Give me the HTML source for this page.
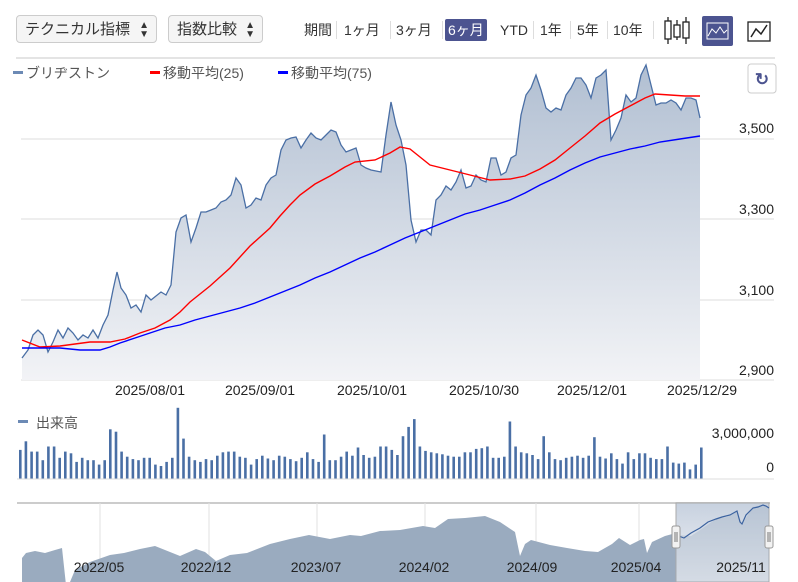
<!DOCTYPE html>
<html><head><meta charset="utf-8"><style>
body{margin:0;width:798px;height:582px;background:#fff;font-family:"Liberation Sans","Noto Sans CJK JP",sans-serif;overflow:hidden;position:relative}
.dd{position:absolute;top:15px;height:28px;border:1px solid #ccc;border-radius:4px;background:#f5f5f5;font-size:15px;line-height:28px;padding-left:8px;box-sizing:border-box;color:#333}
.dd span{position:absolute;right:7px;top:0;font-size:10px;line-height:9px;padding-top:5px}
.per{position:absolute;top:20px;font-size:14px;color:#333;line-height:20px}
.sep{position:absolute;top:21px;width:1px;height:18px;background:#ddd}
</style></head><body>
<div class="dd" style="left:16px;width:141px">テクニカル指標<span>▲<br>▼</span></div>
<div class="dd" style="left:168px;width:95px">指数比較<span>▲<br>▼</span></div>
<div class="per" style="left:304px">期間</div><div class="sep" style="left:336px"></div>
<div class="per" style="left:344px">1ヶ月</div><div class="sep" style="left:390px"></div>
<div class="per" style="left:396px">3ヶ月</div><div class="sep" style="left:442px"></div>
<div class="per" style="left:445px;top:19px;background:#4c5490;color:#fff;padding:1px 3px;border-radius:2px">6ヶ月</div>
<div class="per" style="left:500px">YTD</div><div class="sep" style="left:533px"></div>
<div class="per" style="left:540px">1年</div><div class="sep" style="left:570px"></div>
<div class="per" style="left:577px">5年</div><div class="sep" style="left:607px"></div>
<div class="per" style="left:613px">10年</div><div class="sep" style="left:653px"></div>
<svg style="position:absolute;left:0;top:0" width="798" height="582">
<!-- candle icon -->
<g stroke="#222" fill="#fff" stroke-width="1.3"><line x1="668" y1="17" x2="668" y2="44"/><rect x="665" y="21" width="6" height="18"/><line x1="677" y1="20" x2="677" y2="40"/><rect x="674" y="25" width="6" height="12"/><line x1="686" y1="17" x2="686" y2="44"/><rect x="683" y="22" width="6" height="16"/></g>
<rect x="702" y="16" width="31" height="30" rx="2" fill="#4c5490"/>
<rect x="707" y="23" width="21" height="16" fill="none" stroke="#fff"/>
<path d="M708 36 L712 29 L716 33 L720 27 L724 33 L727 30" stroke="#fff" fill="none"/>
<rect x="748" y="22" width="22" height="19" fill="none" stroke="#222" stroke-width="1.3"/>
<path d="M751 37 L756 29 L761 34 L767 25" stroke="#222" fill="none" stroke-width="1.5"/>
<line x1="16" y1="58" x2="775" y2="58" stroke="#e4e4e4" stroke-width="2"/>
<rect x="748" y="64" width="28" height="29" rx="3" fill="#fff" stroke="#ccc"/>
<text x="762" y="85" font-size="17" fill="#4c5490" text-anchor="middle" font-weight="bold">↻</text>
<!-- legend -->
<g font-size="14" fill="#555"><rect x="13" y="71" width="10" height="3" fill="#6c8ab5"/><text x="26" y="78">ブリヂストン</text>
<rect x="150" y="71" width="10" height="3" fill="#f00"/><text x="163" y="78">移動平均(25)</text>
<rect x="278" y="71" width="10" height="3" fill="#00f"/><text x="291" y="78">移動平均(75)</text></g>
<defs><linearGradient id="g" x1="0" y1="0" x2="0" y2="1"><stop offset="0" stop-color="#b1bfd2"/><stop offset="1" stop-color="#f2f3f6"/></linearGradient>
<linearGradient id="g2" x1="0" y1="0" x2="0" y2="1"><stop offset="0" stop-color="#c7d1df"/><stop offset="1" stop-color="#f4f5f8"/></linearGradient></defs>
<g stroke="#ddd"><line x1="21" y1="139" x2="774" y2="139"/><line x1="21" y1="219" x2="774" y2="219"/><line x1="21" y1="300" x2="774" y2="300"/><line x1="21" y1="380" x2="774" y2="380"/></g>
<g font-size="14" fill="#222" text-anchor="end"><text x="774" y="133">3,500</text><text x="774" y="214">3,300</text><text x="774" y="295">3,100</text><text x="774" y="375">2,900</text></g>
<path id="pp" fill="url(#g)" d="M22,358 L28,350 33,335 38,330 43,335 48,352 53,342 58,330 63,338 68,328 73,333 78,340 83,335 88,338 93,330 98,338 103,325 108,315 113,290 117,272 121,288 126,295 131,308 136,305 141,312 146,295 151,300 156,296 161,292 166,295 171,285 176,232 181,218 186,215 191,242 196,228 201,212 206,212 211,210 216,208 221,202 226,200 231,195 236,178 241,185 246,208 251,205 256,198 261,200 266,185 271,178 276,175 281,150 286,140 291,138 296,137 301,148 306,140 311,133 316,138 321,140 326,135 331,130 336,132 341,145 346,152 351,150 356,148 361,165 366,168 371,170 376,171 381,172 386,135 391,102 396,125 401,140 406,165 411,220 416,242 421,230 426,230 431,235 436,200 441,195 446,186 451,190 456,182 461,170 466,188 471,186 476,175 481,180 486,182 491,158 496,158 501,175 506,172 511,158 516,155 521,115 526,95 531,88 536,75 541,90 546,108 551,112 556,108 561,110 566,95 571,88 576,78 581,78 586,85 591,98 596,78 601,75 606,70 611,140 616,130 621,118 626,95 631,102 636,98 641,75 646,65 651,85 656,105 661,103 666,103 671,100 676,103 681,110 686,98 691,98 696,100 700,118 L700,380 L22,380 Z"/>
<polyline fill="none" stroke="#4a6fa5" stroke-width="1.3" points="22,358 28,350 33,335 38,330 43,335 48,352 53,342 58,330 63,338 68,328 73,333 78,340 83,335 88,338 93,330 98,338 103,325 108,315 113,290 117,272 121,288 126,295 131,308 136,305 141,312 146,295 151,300 156,296 161,292 166,295 171,285 176,232 181,218 186,215 191,242 196,228 201,212 206,212 211,210 216,208 221,202 226,200 231,195 236,178 241,185 246,208 251,205 256,198 261,200 266,185 271,178 276,175 281,150 286,140 291,138 296,137 301,148 306,140 311,133 316,138 321,140 326,135 331,130 336,132 341,145 346,152 351,150 356,148 361,165 366,168 371,170 376,171 381,172 386,135 391,102 396,125 401,140 406,165 411,220 416,242 421,230 426,230 431,235 436,200 441,195 446,186 451,190 456,182 461,170 466,188 471,186 476,175 481,180 486,182 491,158 496,158 501,175 506,172 511,158 516,155 521,115 526,95 531,88 536,75 541,90 546,108 551,112 556,108 561,110 566,95 571,88 576,78 581,78 586,85 591,98 596,78 601,75 606,70 611,140 616,130 621,118 626,95 631,102 636,98 641,75 646,65 651,85 656,105 661,103 666,103 671,100 676,103 681,110 686,98 691,98 696,100 700,118"/>
<polyline fill="none" stroke="#f00" stroke-width="1.4" points="22,340 40,347 60,346 75,344 90,342 110,342 125,339 140,333 155,328 170,320 180,312 190,302 210,286 230,268 250,246 270,228 280,216 290,205 300,195 315,184 330,176 345,167 355,162 375,160 390,153 400,147 410,149 420,157 430,165 450,170 470,175 490,180 510,179 525,176 540,169 555,160 570,148 585,136 600,123 615,114 630,106 645,98 655,94 670,95 685,96 700,96"/>
<polyline fill="none" stroke="#00f" stroke-width="1.4" points="22,348 40,348 60,348 80,350 100,350 110,347 120,343 135,338 150,333 165,328 180,325 195,320 210,316 225,312 240,308 255,303 270,297 285,291 300,285 315,278 330,272 345,265 360,258 375,252 390,245 405,238 420,232 435,226 450,220 465,214 480,210 495,205 510,200 525,193 540,185 555,178 570,170 585,163 600,157 615,153 630,149 645,146 660,142 680,139 700,136"/>
<g font-size="14" fill="#222" text-anchor="middle"><text x="150" y="395">2025/08/01</text><text x="260" y="395">2025/09/01</text><text x="372" y="395">2025/10/01</text><text x="484" y="395">2025/10/30</text><text x="592" y="395">2025/12/01</text><text x="702" y="395">2025/12/29</text></g>
<rect x="18" y="420" width="10" height="3" fill="#6c8ab5"/><text x="36" y="428" font-size="14" fill="#555">出来高</text>
<g font-size="14" fill="#222" text-anchor="end"><text x="774" y="438">3,000,000</text><text x="774" y="472">0</text></g>
<g id="vol" fill="#4a6fa5"></g>
<line x1="17" y1="479" x2="774" y2="479" stroke="#ddd"/>
<!-- navigator -->
<line x1="17" y1="503" x2="770" y2="503" stroke="#ccc" stroke-width="2"/>
<g stroke="#e2e2e2"><line x1="100" y1="503" x2="100" y2="582"/><line x1="209" y1="503" x2="209" y2="582"/><line x1="317" y1="503" x2="317" y2="582"/><line x1="425" y1="503" x2="425" y2="582"/><line x1="536" y1="503" x2="536" y2="582"/><line x1="639" y1="503" x2="639" y2="582"/><line x1="749" y1="503" x2="749" y2="582"/></g>
<path fill="#9aabbf" d="M22,582 L22,558 26,553 35,551 45,553 55,550 62,548 66,585 70,582 75,570 90,562 110,555 124,553 140,549 155,546 170,552 180,556 196,549 205,552 216,561 230,555 247,553 270,544 290,539 309,535 330,539 350,535 361,536 380,531 400,530 423,526 435,528 448,519 465,518 485,516 500,522 515,532 520,556 525,544 531,540 550,545 567,548 585,551 598,552 612,544 619,538 630,545 640,540 644,539 647,553 652,542 665,536 676,533 676,582 Z"/>
<rect x="676" y="503" width="93" height="79" fill="url(#g2)" stroke="#aaa"/>
<path fill="#9aabbf" opacity="0.35" d="M676,582 L676,535 691,536 700,530 716,519 727,517 737,511 742,524 753,507 763,505 769,508 L769,582 Z"/>
<polyline fill="none" stroke="#3c63a0" stroke-width="1.2" points="676,535 684,538 691,533 700,528 708,522 716,519 722,517 730,515 737,511 740,522 742,524 746,515 753,508 758,507 763,505 766,506 769,508"/>
<g fill="#f2f2f2" stroke="#999"><rect x="672" y="526" width="8" height="22" rx="2"/><rect x="765" y="526" width="8" height="22" rx="2"/></g>
<g stroke="#777"><line x1="675" y1="532" x2="675" y2="542"/><line x1="677" y1="532" x2="677" y2="542"/><line x1="768" y1="532" x2="768" y2="542"/><line x1="770" y1="532" x2="770" y2="542"/></g>
<g font-size="14" fill="#222" text-anchor="middle"><text x="99" y="572">2022/05</text><text x="206" y="572">2022/12</text><text x="316" y="572">2023/07</text><text x="424" y="572">2024/02</text><text x="532" y="572">2024/09</text><text x="636" y="572">2025/04</text><text x="741" y="572">2025/11</text></g>
</svg>
<script>
var t=[205,180,210,210,235,195,195,228,210,215,240,228,235,235,248,235,145,152,210,225,232,235,228,228,248,252,240,228,82,172,225,235,240,232,235,222,212,210,210,225,228,248,232,222,230,235,222,225,232,238,228,212,232,240,160,235,235,225,210,222,198,220,228,225,195,195,205,220,165,138,115,195,208,212,215,218,222,225,225,212,212,202,200,195,228,228,225,122,195,212,215,220,232,165,212,232,235,228,225,222,228,222,168,225,230,215,232,245,212,232,215,215,228,232,232,195,242,245,242,262,248,198];
var g=document.getElementById('vol'),s='',n=t.length,dx=(701-20)/(n-1);
for(var i=0;i<n;i++){var h=(290-t[i])/2.92;s+='<rect x="'+(19+i*dx).toFixed(1)+'" y="'+(479-h).toFixed(1)+'" width="2.6" height="'+h.toFixed(1)+'"/>';}
g.innerHTML=s;
</script>
</body></html>
